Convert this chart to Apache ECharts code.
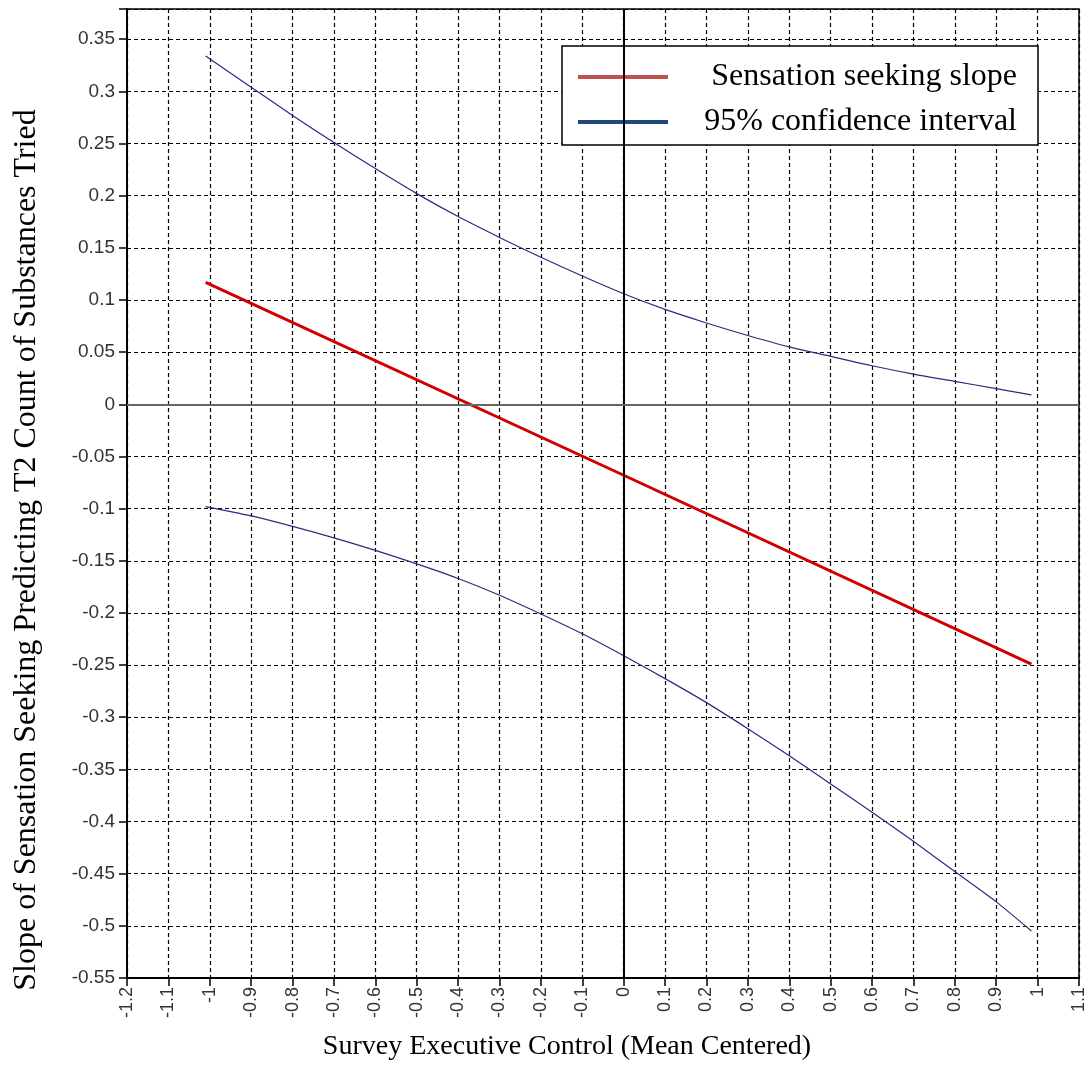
<!DOCTYPE html>
<html>
<head>
<meta charset="utf-8">
<script src="https://cdn.jsdelivr.net/npm/echarts@6/dist/echarts.min.js"></script>
<style>
  html, body { margin: 0; padding: 0; background: #fff; }
  #chart { width: 1088px; height: 1082px; }
</style>
</head>
<body>
<div id="chart"></div>
<script>
// values
const ciX = [-1.01, -0.9, -0.8, -0.7, -0.6, -0.5, -0.4, -0.3, -0.2, -0.1, 0,
  0.1, 0.2, 0.3, 0.4, 0.5, 0.6, 0.7, 0.8, 0.9, 0.985];
const upperCI = [0.334, 0.304, 0.277, 0.251, 0.226, 0.202, 0.180, 0.160, 0.141, 0.123, 0.106,
  0.091, 0.078, 0.066, 0.055, 0.046, 0.037, 0.029, 0.022, 0.015, 0.009];
const lowerCI = [-0.098, -0.107, -0.117, -0.128, -0.140, -0.153, -0.167, -0.183, -0.201, -0.220, -0.241,
  -0.263, -0.286, -0.311, -0.337, -0.364, -0.391, -0.419, -0.448, -0.477, -0.505];
const slopeX = [-1.01, 0, 0.985];
const slopeY = [0.117, -0.068, -0.249];

const SLOPE_NAME = "Sensation seeking slope";
const CI_NAME = "95% confidence interval";

const serif = "'Liberation Serif', 'Times New Roman', serif";
const sans = "'Liberation Sans', Arial, sans-serif";

const pairs = (xs, ys) => xs.map((x, i) => [x, ys[i]]);
const fmt = (v) => String(Number(v.toFixed(2)));

const chart = echarts.init(document.getElementById("chart"));

const dashed = { show: true, lineStyle: { color: "#000", type: [4, 3], width: 1.2 } };

const option = {
  backgroundColor: "#fff",
  animation: false,
  grid: {
    left: 127, right: 7, top: 9, bottom: 104,
    show: true, borderColor: "#000", borderWidth: 1.5,
  },
  xAxis: {
    type: "value",
    min: -1.2,
    max: 1.1,
    interval: 0.1,
    axisLine: { onZero: false, lineStyle: { color: "#000", width: 2 } },
    axisTick: { length: 8, lineStyle: { color: "#000", width: 1.5 } },
    axisLabel: {
      rotate: 90, margin: 9, color: "#333", fontSize: 18, fontFamily: sans,
      formatter: fmt,
    },
    splitLine: dashed,
  },
  yAxis: {
    type: "value",
    min: -0.55,
    max: 0.379,
    interval: 0.05,
    axisLine: { onZero: false, lineStyle: { color: "#000", width: 2 } },
    axisTick: { length: 8, lineStyle: { color: "#000", width: 1.5 } },
    axisLabel: {
      margin: 12, color: "#333", fontSize: 19, fontFamily: sans,
      formatter: (v) => (Math.abs(v * 20 - Math.round(v * 20)) > 1e-6 ? "" : fmt(v)),
    },
    splitLine: dashed,
  },
  legend: {
    left: 562,
    top: 46,
    orient: "vertical",
    icon: "rect",
    itemWidth: 90,
    itemHeight: 4,
    itemGap: 13,
    padding: [15, 21, 7, 16],
    backgroundColor: "#fff",
    borderColor: "#000",
    borderWidth: 1.5,
    borderRadius: 0,
    data: [
      { name: SLOPE_NAME, itemStyle: { color: "#c0504d" } },
      { name: CI_NAME, itemStyle: { color: "#1f497d" } },
    ],
    formatter: (name) => "{t|" + name + "}",
    textStyle: {
      rich: {
        t: { width: 344, align: "right", fontSize: 32, fontFamily: serif, color: "#000", lineHeight: 34 },
      },
    },
  },
  graphic: [
    {
      type: "text",
      x: 27,
      y: 550,
      rotation: Math.PI / 2,
      style: {
        text: "Slope of Sensation Seeking Predicting T2 Count of Substances Tried",
        font: "32px " + serif,
        fill: "#000",
        align: "center",
        verticalAlign: "middle",
      },
    },
    {
      type: "text",
      x: 567,
      y: 1047,
      style: {
        text: "Survey Executive Control (Mean Centered)",
        font: "28px " + serif,
        fill: "#000",
        align: "center",
        verticalAlign: "middle",
      },
    },
  ],
  series: [
    {
      name: CI_NAME,
      type: "line",
      data: pairs(ciX, upperCI),
      smooth: 0.3,
      symbol: "none",
      lineStyle: { color: "#2b2b80", width: 1.2 },
      itemStyle: { color: "#1f497d" },
      z: 3,
      markLine: {
        silent: true,
        symbol: "none",
        label: { show: false },
        data: [
          { xAxis: 0, lineStyle: { color: "#000", width: 2, type: "solid" } },
          { yAxis: 0, lineStyle: { color: "#666", width: 2, type: "solid" } },
        ],
      },
    },
    {
      name: CI_NAME,
      type: "line",
      data: pairs(ciX, lowerCI),
      smooth: 0.3,
      symbol: "none",
      lineStyle: { color: "#2b2b80", width: 1.2 },
      itemStyle: { color: "#1f497d" },
      z: 3,
    },
    {
      name: SLOPE_NAME,
      type: "line",
      data: pairs(slopeX, slopeY),
      symbol: "none",
      lineStyle: { color: "#d00000", width: 3 },
      itemStyle: { color: "#c0504d" },
      z: 4,
    },
  ],
};

chart.setOption(option);
window.addEventListener("resize", () => chart.resize());
</script>
</body>
</html>
